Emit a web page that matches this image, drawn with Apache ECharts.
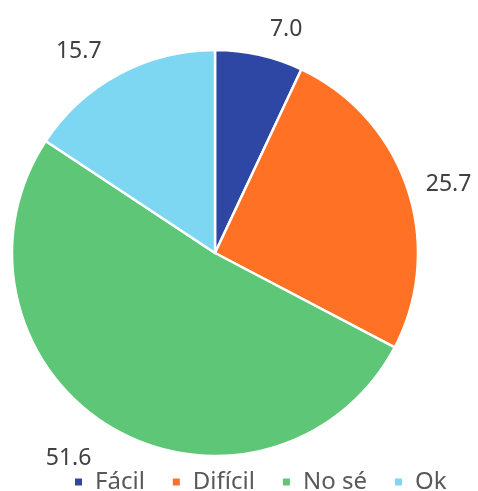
<!DOCTYPE html>
<html>
<head>
<meta charset="utf-8">
<script src="https://cdn.jsdelivr.net/npm/echarts@6/dist/echarts.min.js"></script>
<style>
  html, body { margin: 0; padding: 0; background: #fff; }
  #chart { width: 478px; height: 491px; }
</style>
</head>
<body>
<div id="chart"></div>
<script>
// data
const categories = ['Fácil', 'Difícil', 'No sé', 'Ok'];
const values = [7.0, 25.7, 51.6, 15.7];
const colors = ['#2E47A5', '#FF7125', '#5EC677', '#7DD6F2'];
// how far each label sits outside the pie
const labelGap = [26, 14, 30, 26];

const chart = echarts.init(document.getElementById('chart'));
chart.setOption({
  color: colors,
  animation: false,
  legend: {
    data: categories,
    bottom: -8,
    left: 68,
    icon: 'rect',
    itemWidth: 9,
    itemHeight: 9,
    itemGap: 26,
    textStyle: { fontFamily: 'Noto Sans', fontSize: 24, color: '#595959', padding: [0, 0, 0, 7] }
  },
  series: [{
    type: 'pie',
    center: [215, 253],
    radius: 203,
    startAngle: 90,
    clockwise: true,
    avoidLabelOverlap: false,
    itemStyle: { borderColor: '#fff', borderWidth: 2.5 },
    label: {
      show: true,
      position: 'outside',
      formatter: p => p.value.toFixed(1),
      fontFamily: 'Noto Sans',
      fontSize: 23,
      color: '#404040'
    },
    labelLine: { show: false, length2: 0 },
    // the bottom label sits a bit lower in the original
    labelLayout: p => (p.dataIndex === 2 ? { dy: 5 } : {}),
    data: categories.map((c, i) => ({
      name: c,
      value: values[i],
      labelLine: { length: labelGap[i] }
    }))
  }]
});
</script>
</body>
</html>
